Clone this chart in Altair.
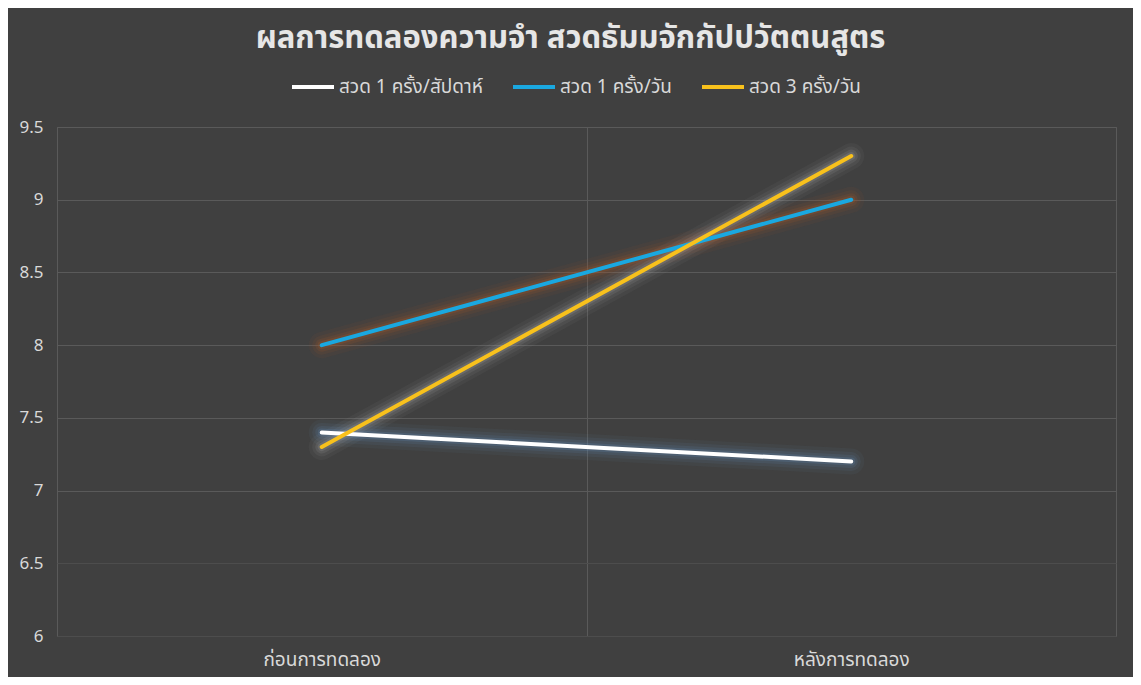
import altair as alt
import pandas as pd

categories = ["ก่อนการทดลอง", "หลังการทดลอง"]
series = ["สวด 1 ครั้ง/สัปดาห์", "สวด 1 ครั้ง/วัน", "สวด 3 ครั้ง/วัน"]
weekly = [7.4, 7.2]
daily_once = [8.0, 9.0]
daily_thrice = [7.3, 9.3]
line_colors = ["#ffffff", "#1aa8e0", "#f8c11c"]
glow_colors = ["#5f87b0", "#a8592a", "#a0a0a0"]
y_ticks = [6, 6.5, 7, 7.5, 8, 8.5, 9, 9.5]

rows = []
for s, vals, gc in zip(series, [weekly, daily_once, daily_thrice], glow_colors):
    for i, (c, v) in enumerate(zip(categories, vals)):
        rows.append({"phase": c, "order": i, "series": s, "value": v, "glow": gc})
df = pd.DataFrame(rows)

FONT = "Tahoma, 'Noto Sans Thai', 'Noto Sans', sans-serif"

x_enc = alt.X(
    "phase:N",
    sort=categories,
    scale=alt.Scale(paddingInner=0, paddingOuter=0),
    axis=alt.Axis(
        title=None, labelAngle=0, tickBand="extent", grid=True, gridColor="#5a5a5a",
        domain=False, ticks=False, labelPadding=14, labelFontSize=19,
        labelColor="#d9d9d9", labelFont=FONT,
    ),
)
y_enc = alt.Y(
    "value:Q",
    scale=alt.Scale(domain=[6, 9.5], nice=False, zero=False),
    axis=alt.Axis(
        title=None, values=y_ticks, format=".1~f",
        grid=True,
        gridColor={"condition": {"test": "datum.value <= 6.5", "value": "#4d4d4d"}, "value": "#5a5a5a"},
        domain=False, ticks=False, labelPadding=14, labelFontSize=17,
        labelColor="#d9d9d9", labelFont=FONT,
    ),
)

base = alt.Chart(df)

glows = []
for w, op in [(26, 0.07), (19, 0.10), (13, 0.15), (8, 0.22)]:
    glows.append(
        base.mark_line(strokeWidth=w, opacity=op, strokeCap="round").encode(
            x=x_enc, y=y_enc,
            stroke=alt.Stroke("glow:N", scale=None, legend=None),
            order="order:Q",
        )
    )

main = base.mark_line(strokeWidth=4, strokeCap="round").encode(
    x=x_enc, y=y_enc,
    color=alt.Color(
        "series:N", sort=series,
        scale=alt.Scale(domain=series, range=line_colors),
        legend=alt.Legend(
            title=None, orient="none", direction="horizontal",
            legendX=233, legendY=-63,
            symbolType="stroke", symbolSize=1764, symbolStrokeWidth=4,
            labelFontSize=19, labelColor="#d9d9d9", labelFont=FONT,
            labelOffset=3, columnPadding=22, labelLimit=300,
        ),
    ),
    order="order:Q",
)

chart = alt.layer(*glows, main).properties(
    width=1059, height=509,
    autosize=alt.AutoSizeParams(type="none"),
    padding={"left": 49, "top": 119, "right": 17, "bottom": 41},
    background="#404040",
    title=alt.TitleParams(
        "ผลการทดลองความจำ สวดธัมมจักกัปปวัตตนสูตร",
        fontSize=31, fontWeight="bold", color="#e6e6e6", font=FONT,
        anchor="middle", frame="group", offset=9, dx=-16,
    ),
).configure_view(stroke="#5a5a5a", strokeWidth=1)

chart.save("out.html", embed_options={"renderer": "svg", "actions": False})
